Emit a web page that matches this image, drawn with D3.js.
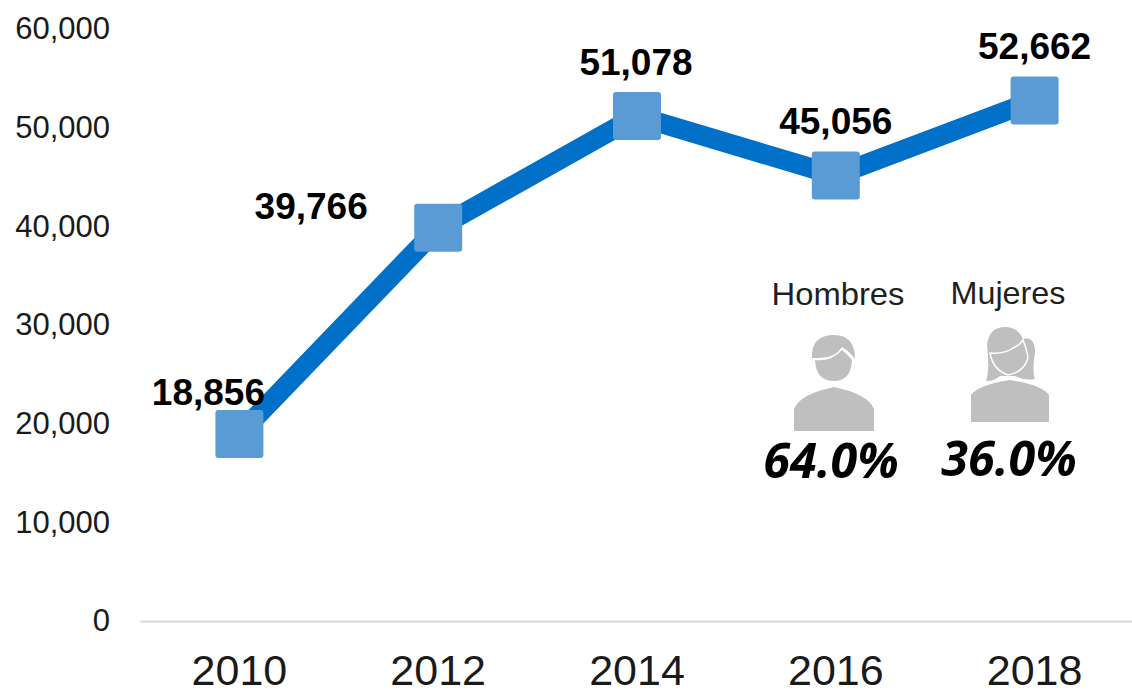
<!DOCTYPE html>
<html>
<head>
<meta charset="utf-8">
<script src="https://cdn.jsdelivr.net/npm/d3@7"></script>
<style>
  body { margin: 0; background: #fff; }
  text { font-family: "Liberation Sans", Arial, sans-serif; }
</style>
</head>
<body>
<div id="chart-area"></div>
<script>
let years = ["2010", "2012", "2014", "2016", "2018"];
let values = [18856, 39766, 51078, 45056, 52662];
let yTicks = [0, 10000, 20000, 30000, 40000, 50000, 60000];
let labelShift = [[-31, -29], [-127, -9], [-1, -41], [0, -41], [0, -41]];

let width = 1132,
    height = 690;

let svg = d3.select("#chart-area").append("svg")
    .attr("width", width)
    .attr("height", height)
    .style("display", "block");

let x = d3.scaleBand().domain(years).range([140, 1134]);
let y = d3.scaleLinear().domain([0, 60000]).range([620, 28]);
let fmt = d3.format(",");

// axes
let xAxis = svg.append("g")
    .attr("transform", "translate(0,621)")
    .call(d3.axisBottom(x).tickSize(0).tickPadding(33));
xAxis.select(".domain").attr("stroke", "#d9d9d9").attr("stroke-width", 2);
xAxis.selectAll("text").attr("font-size", 43).attr("fill", "#1a1a1a")
    .style("font-family", '"Liberation Sans", Arial, sans-serif');

let yAxis = svg.append("g")
    .attr("transform", "translate(140,1)")
    .call(d3.axisLeft(y).tickValues(yTicks).tickFormat(fmt).tickSize(0).tickPadding(30));
yAxis.select(".domain").remove();
yAxis.selectAll("text").attr("font-size", 31).attr("fill", "#1a1a1a")
    .style("font-family", '"Liberation Sans", Arial, sans-serif');

// line
let line = d3.line()
    .x((d, i) => x(years[i]) + x.bandwidth() / 2)
    .y(d => y(d));

svg.append("path")
    .datum(values)
    .attr("d", line)
    .attr("fill", "none")
    .attr("stroke", "#0070c8")
    .attr("stroke-width", 20)
    .attr("stroke-linejoin", "miter");

// markers
svg.selectAll(".marker")
    .data(values)
    .enter().append("rect")
    .attr("class", "marker")
    .attr("x", (d, i) => x(years[i]) + x.bandwidth() / 2 - 24)
    .attr("y", d => y(d) - 24)
    .attr("width", 48)
    .attr("height", 48)
    .attr("rx", 3)
    .attr("fill", "#5b9bd5");

// value labels
svg.selectAll(".value")
    .data(values)
    .enter().append("text")
    .attr("class", "value")
    .attr("x", (d, i) => x(years[i]) + x.bandwidth() / 2 + labelShift[i][0])
    .attr("y", (d, i) => y(d) + labelShift[i][1])
    .attr("text-anchor", "middle")
    .attr("font-size", 37)
    .attr("font-weight", "bold")
    .attr("fill", "#000")
    .text(d => fmt(d));

// gender people
let genders = ["Hombres", "Mujeres"];
let shares = ["64.0%", "36.0%"];
let gx = [838, 1008];

svg.selectAll(".gname")
    .data(genders)
    .enter().append("text")
    .attr("x", (d, i) => gx[i])
    .attr("y", (d, i) => i ? 304 : 305)
    .attr("text-anchor", "middle")
    .attr("font-size", 32)
    .attr("textLength", (d, i) => i ? 115 : 133)
    .attr("lengthAdjust", "spacingAndGlyphs")
    .attr("fill", "#1f1f1f")
    .text(d => d);

svg.selectAll(".gshare")
    .data(shares)
    .enter().append("text")
    .attr("x", (d, i) => i ? 1009 : 831)
    .attr("y", (d, i) => i ? 476 : 478)
    .attr("text-anchor", "middle")
    .attr("font-size", 48.5)
    .attr("font-weight", "bold")
    .attr("font-style", "italic")
    .attr("fill", "#000")
    .style("font-family", '"Open Sans", sans-serif')
    .text(d => d);

// man icon
let man = svg.append("g").attr("fill", "#bfbfbf");
man.append("path").attr("d", "M812 358 Q811 335 834 335 Q855 335 855 359 Q850 352 842 347 Q835 358 820 358 Z");
man.append("path").attr("d", "M815 360 Q831 362 842 350 Q848 355 852 360 Q851 381 834 381 Q816 381 815 360 Z");
man.append("path").attr("d", "M794 431 V409 Q800 394 834 387 Q868 394 874 409 V431 Z");

// woman icon
let woman = svg.append("g").attr("fill", "#bfbfbf");
woman.append("path").attr("d", "M1005 327 Q1018 327 1023 339 Q1035 336 1035 352 Q1032 372 1035 379 Q1025 381 1015 376 L1000 376 Q995 381 986 381 Q990 370 987 345 Q989 327 1005 327 Z");
woman.append("path").attr("d", "M971 422 V395 Q978 385 1010 380 Q1042 385 1049 395 V422 Z");
woman.append("path")
    .attr("stroke", "#fff")
    .attr("stroke-width", 1.5)
    .attr("d", "M990 353 Q1005 354 1013 348 Q1020 345 1023 340 Q1027 350 1028 358 Q1024 372 1008 375 Q993 370 990 353 Z");
</script>
</body>
</html>
